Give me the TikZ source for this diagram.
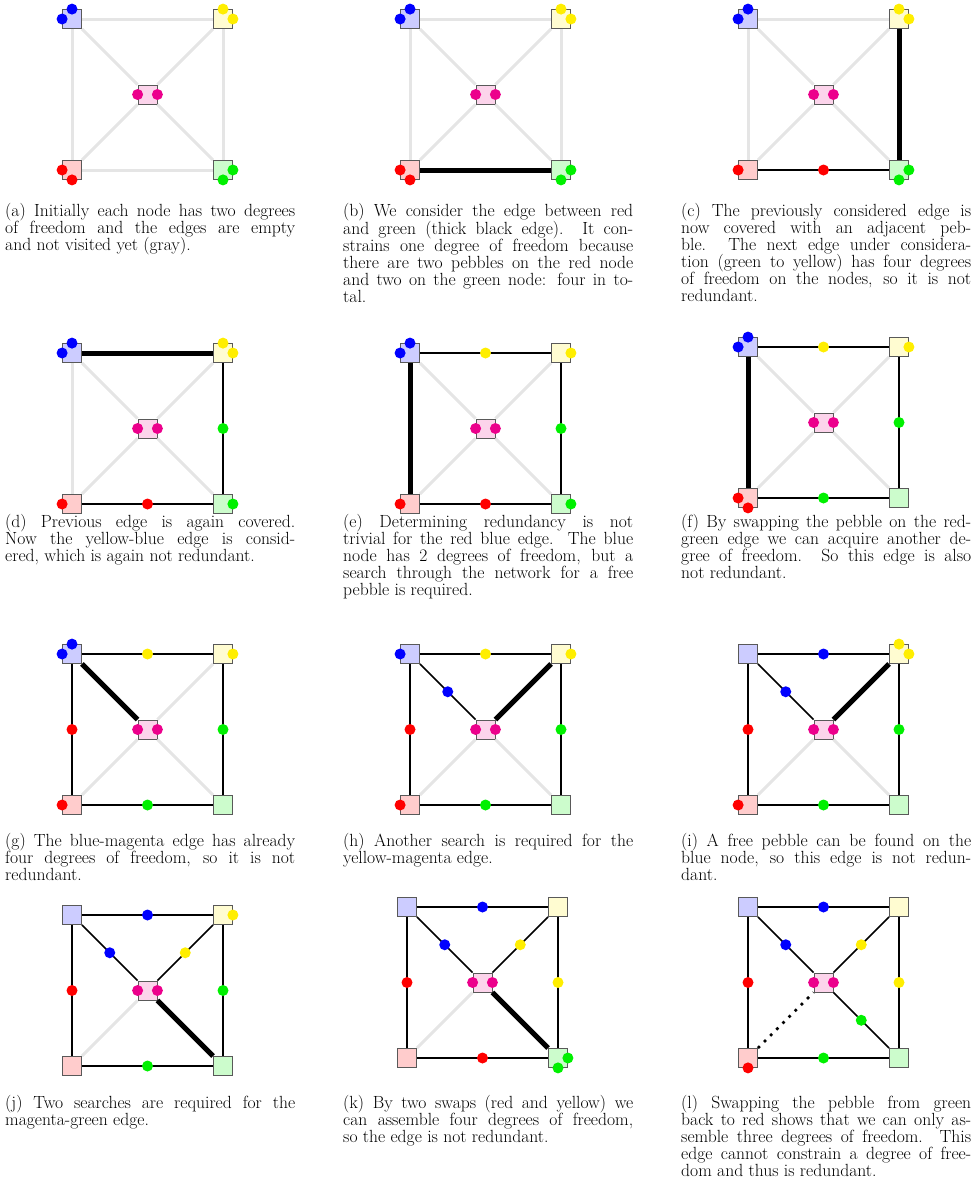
\documentclass[tikz,border=0pt]{standalone}
\usepackage{fontspec}
\usepackage{tikz}
\usetikzlibrary{calc}
\definecolor{pbl}{RGB}{0,0,255}
\definecolor{pye}{RGB}{255,238,0}
\definecolor{pre}{RGB}{255,0,0}
\definecolor{pgr}{RGB}{0,240,0}
\definecolor{pma}{RGB}{236,0,140}
\colorlet{fbl}{pbl!20}
\colorlet{fye}{pye!18}
\colorlet{fre}{pre!20}
\colorlet{fgr}{pgr!20}
\colorlet{fma}{pma!17}

\begin{document}
\begin{tikzpicture}[x=1pt, y=-1pt,
  box/.style={draw=black!65, line width=0.8pt, minimum size=19pt, inner sep=0pt},
  empty/.style={line width=3pt, black!10},
  covered/.style={line width=1.7pt},
  current/.style={line width=5pt},
  redund/.style={line width=2.7pt, dash pattern=on 2.7pt off 6pt},
  caption/.style={anchor=north west, inner sep=0pt, text width=290pt, align=justify,
    font=\fontsize{17.6}{17}\selectfont}]
  \useasboundingbox (0,0) rectangle (973,1197);
  % the five nodes of every panel
  \foreach \p/\x/\y in {a/72/19, b/410/19, c/748/19, d/72/353, e/410/353,
    f/748/347, g/72/654, h/410/654, i/748/654, j/72/915, k/407/907, l/748/907} {
    \node[box, fill=fbl] (\p-bl) at (\x,\y) {};
    \node[box, fill=fye] (\p-ye) at ({\x+151},\y) {};
    \node[box, fill=fre] (\p-re) at (\x,{\y+151}) {};
    \node[box, fill=fgr] (\p-gr) at ({\x+151},{\y+151}) {};
    \node[box, fill=fma] (\p-ma) at ({\x+75.5},{\y+75.5}) {};
  }

  % (a)
  \foreach \u/\v in {bl/ye, ye/gr, re/gr, bl/re, bl/ma, ye/ma, re/ma, gr/ma}
    \draw[empty] (a-\u) -- (a-\v);
  \foreach \n/\s in {bl/north, bl/west, ye/north, ye/east, re/west, re/south, gr/east, gr/south}
    \fill[p\n] (a-\n.\s) circle (5.5pt);

  % (b)
  \foreach \u/\v in {bl/ye, ye/gr, bl/re, bl/ma, ye/ma, re/ma, gr/ma}
    \draw[empty] (b-\u) -- (b-\v);
  \draw[current] (b-re) -- (b-gr);
  \foreach \n/\s in {bl/north, bl/west, ye/north, ye/east, re/west, re/south, gr/east, gr/south}
    \fill[p\n] (b-\n.\s) circle (5.5pt);

  % (c)
  \foreach \u/\v in {bl/ye, bl/re, bl/ma, ye/ma, re/ma, gr/ma}
    \draw[empty] (c-\u) -- (c-\v);
  \foreach \u/\v/\c in {re/gr/pre} {
    \draw[covered] (c-\u) -- (c-\v);
    \fill[\c] ($(c-\u)!.5!(c-\v)$) circle (5.5pt);
  }
  \draw[current] (c-gr) -- (c-ye);
  \foreach \n/\s in {bl/north, bl/west, ye/north, ye/east, re/west, gr/east, gr/south}
    \fill[p\n] (c-\n.\s) circle (5.5pt);

  % (d)
  \foreach \u/\v in {bl/re, bl/ma, ye/ma, re/ma, gr/ma}
    \draw[empty] (d-\u) -- (d-\v);
  \foreach \u/\v/\c in {re/gr/pre, ye/gr/pgr} {
    \draw[covered] (d-\u) -- (d-\v);
    \fill[\c] ($(d-\u)!.5!(d-\v)$) circle (5.5pt);
  }
  \draw[current] (d-bl) -- (d-ye);
  \foreach \n/\s in {bl/north, bl/west, ye/north, ye/east, re/west, gr/east}
    \fill[p\n] (d-\n.\s) circle (5.5pt);

  % (e)
  \foreach \u/\v in {bl/ma, ye/ma, re/ma, gr/ma}
    \draw[empty] (e-\u) -- (e-\v);
  \foreach \u/\v/\c in {bl/ye/pye, ye/gr/pgr, re/gr/pre} {
    \draw[covered] (e-\u) -- (e-\v);
    \fill[\c] ($(e-\u)!.5!(e-\v)$) circle (5.5pt);
  }
  \draw[current] (e-bl) -- (e-re);
  \foreach \n/\s in {bl/north, bl/west, ye/east, re/west, gr/east}
    \fill[p\n] (e-\n.\s) circle (5.5pt);

  % (f)
  \foreach \u/\v in {bl/ma, ye/ma, re/ma, gr/ma}
    \draw[empty] (f-\u) -- (f-\v);
  \foreach \u/\v/\c in {bl/ye/pye, ye/gr/pgr, re/gr/pgr} {
    \draw[covered] (f-\u) -- (f-\v);
    \fill[\c] ($(f-\u)!.5!(f-\v)$) circle (5.5pt);
  }
  \draw[current] (f-bl) -- (f-re);
  \foreach \n/\s in {bl/north, bl/west, ye/east, re/west, re/south}
    \fill[p\n] (f-\n.\s) circle (5.5pt);

  % (g)
  \foreach \u/\v in {ye/ma, re/ma, gr/ma}
    \draw[empty] (g-\u) -- (g-\v);
  \foreach \u/\v/\c in {bl/ye/pye, ye/gr/pgr, re/gr/pgr, bl/re/pre} {
    \draw[covered] (g-\u) -- (g-\v);
    \fill[\c] ($(g-\u)!.5!(g-\v)$) circle (5.5pt);
  }
  \draw[current] (g-bl) -- (g-ma);
  \foreach \n/\s in {bl/north, bl/west, ye/east, re/west}
    \fill[p\n] (g-\n.\s) circle (5.5pt);

  % (h)
  \foreach \u/\v in {re/ma, gr/ma}
    \draw[empty] (h-\u) -- (h-\v);
  \foreach \u/\v/\c in {bl/ye/pye, ye/gr/pgr, re/gr/pgr, bl/re/pre, bl/ma/pbl} {
    \draw[covered] (h-\u) -- (h-\v);
    \fill[\c] ($(h-\u)!.5!(h-\v)$) circle (5.5pt);
  }
  \draw[current] (h-ye) -- (h-ma);
  \foreach \n/\s in {bl/west, ye/east, re/west}
    \fill[p\n] (h-\n.\s) circle (5.5pt);

  % (i)
  \foreach \u/\v in {re/ma, gr/ma}
    \draw[empty] (i-\u) -- (i-\v);
  \foreach \u/\v/\c in {bl/ye/pbl, ye/gr/pgr, re/gr/pgr, bl/re/pre, bl/ma/pbl} {
    \draw[covered] (i-\u) -- (i-\v);
    \fill[\c] ($(i-\u)!.5!(i-\v)$) circle (5.5pt);
  }
  \draw[current] (i-ye) -- (i-ma);
  \foreach \n/\s in {ye/north, ye/east, re/west}
    \fill[p\n] (i-\n.\s) circle (5.5pt);

  % (j)
  \draw[empty] (j-re) -- (j-ma);
  \foreach \u/\v/\c in {bl/ye/pbl, ye/gr/pgr, re/gr/pgr, bl/re/pre, bl/ma/pbl, ye/ma/pye} {
    \draw[covered] (j-\u) -- (j-\v);
    \fill[\c] ($(j-\u)!.5!(j-\v)$) circle (5.5pt);
  }
  \draw[current] (j-ma) -- (j-gr);
  \fill[pye] (j-ye.east) circle (5.5pt);

  % (k)
  \draw[empty] (k-re) -- (k-ma);
  \foreach \u/\v/\c in {bl/ye/pbl, ye/gr/pye, re/gr/pre, bl/re/pre, bl/ma/pbl, ye/ma/pye} {
    \draw[covered] (k-\u) -- (k-\v);
    \fill[\c] ($(k-\u)!.5!(k-\v)$) circle (5.5pt);
  }
  \draw[current] (k-ma) -- (k-gr);
  \foreach \n/\s in {gr/east, gr/south}
    \fill[p\n] (k-\n.\s) circle (5.5pt);

  % (l)
  \draw[redund] (l-re) -- (l-ma);
  \foreach \u/\v/\c in {bl/ye/pbl, ye/gr/pye, re/gr/pgr, bl/re/pre, bl/ma/pbl, ye/ma/pye, ma/gr/pgr} {
    \draw[covered] (l-\u) -- (l-\v);
    \fill[\c] ($(l-\u)!.5!(l-\v)$) circle (5.5pt);
  }
  \fill[pre] (l-re.south) circle (5.5pt);

  % magenta pebbles
  \foreach \p in {a,...,l} {
    \fill[pma] (\p-ma.west) circle (5.5pt);
    \fill[pma] (\p-ma.east) circle (5.5pt);
  }

  % captions
  \node[caption] (cap-a) at (5,203) {(a) Initially each node has two degrees\linebreak
    of freedom and the edges are empty\linebreak and not visited yet (gray).};
  \node[caption] (cap-b) at (343,203) {(b) We consider the edge between red\linebreak
    and green (thick black edge). It con-\linebreak strains one degree of freedom because\linebreak
    there are two pebbles on the red node\linebreak and two on the green node: four in to-\linebreak tal.};
  \node[caption] (cap-c) at (681,203) {(c) The previously considered edge is\linebreak
    now covered with an adjacent peb-\linebreak ble. The next edge under considera-\linebreak
    tion (green to yellow) has four degrees\linebreak of freedom on the nodes, so it is not\linebreak redundant.};
  \node[caption] (cap-d) at (5,514) {(d) Previous edge is again covered.\linebreak
    Now the yellow-blue edge is consid-\linebreak ered, which is again not redundant.};
  \node[caption] (cap-e) at (343,514) {(e) Determining redundancy is not\linebreak
    trivial for the red blue edge. The blue\linebreak node has 2 degrees of freedom, but a\linebreak
    search through the network for a free\linebreak pebble is required.};
  \node[caption] (cap-f) at (681,514) {(f) By swapping the pebble on the red-\linebreak
    green edge we can acquire another de-\linebreak gree of freedom. So this edge is also\linebreak not redundant.};
  \node[caption] (cap-g) at (5,833) {(g) The blue-magenta edge has already\linebreak
    four degrees of freedom, so it is not\linebreak redundant.};
  \node[caption] (cap-h) at (343,833) {(h) Another search is required for the\linebreak
    yellow-magenta edge.};
  \node[caption] (cap-i) at (681,833) {(i) A free pebble can be found on the\linebreak
    blue node, so this edge is not redun-\linebreak dant.};
  \node[caption] (cap-j) at (5,1095) {(j) Two searches are required for the\linebreak
    magenta-green edge.};
  \node[caption] (cap-k) at (343,1095) {(k) By two swaps (red and yellow) we\linebreak
    can assemble four degrees of freedom,\linebreak so the edge is not redundant.};
  \node[caption] (cap-l) at (681,1095) {(l) Swapping the pebble from green\linebreak
    back to red shows that we can only as-\linebreak semble three degrees of freedom. This\linebreak
    edge cannot constrain a degree of free-\linebreak dom and thus is redundant.};
\end{tikzpicture}
\end{document}
